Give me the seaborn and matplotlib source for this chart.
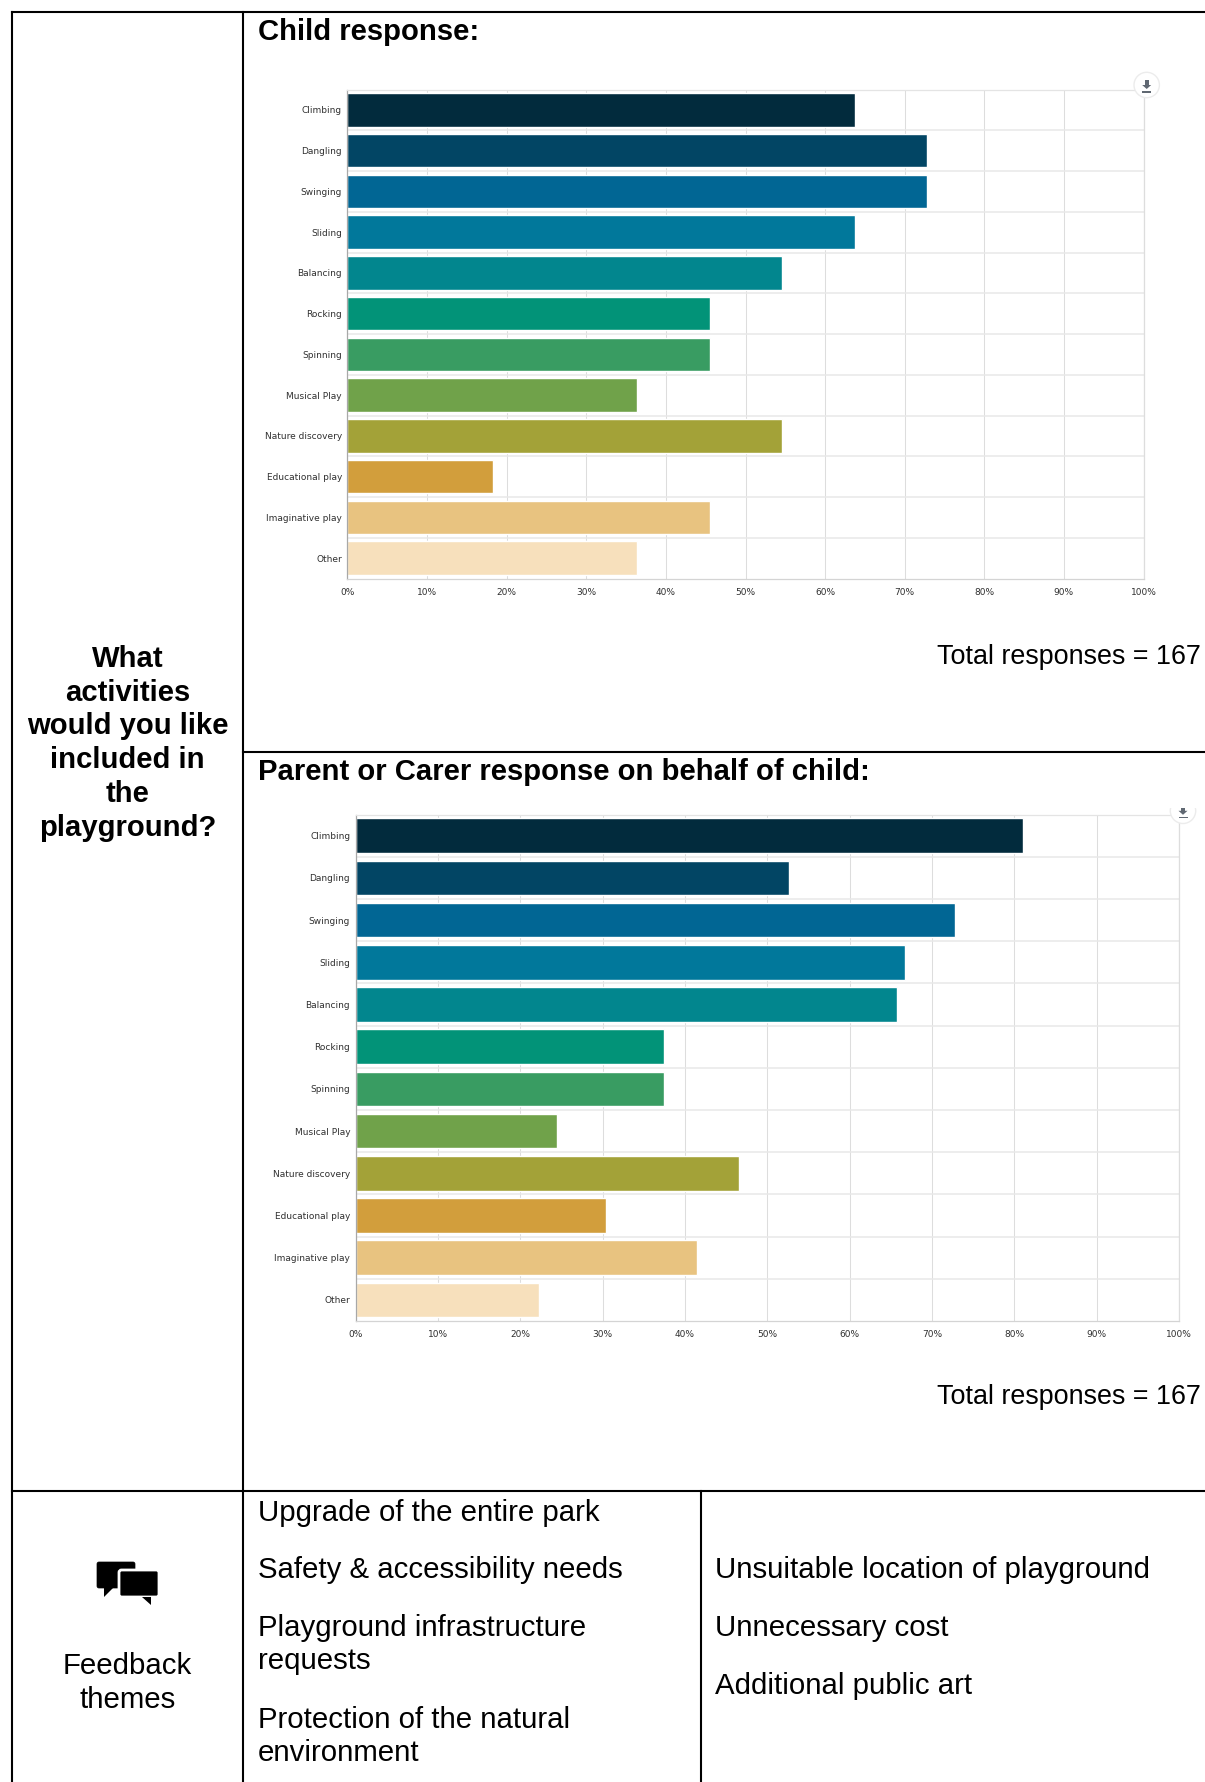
import matplotlib
matplotlib.use("Agg")
import matplotlib.pyplot as plt
import pandas as pd
import seaborn as sns
from matplotlib.patches import Circle, FancyBboxPatch, Polygon, Rectangle

W, H = 1205, 1782

activities = ["Climbing", "Dangling", "Swinging", "Sliding", "Balancing", "Rocking",
              "Spinning", "Musical Play", "Nature discovery", "Educational play",
              "Imaginative play", "Other"]
child_pct = [63.7, 72.8, 72.8, 63.7, 54.6, 45.5, 45.5, 36.4, 54.6, 18.3, 45.5, 36.4]
parent_pct = [81.0, 52.6, 72.8, 66.7, 65.8, 37.5, 37.5, 24.4, 46.5, 30.4, 41.5, 22.3]
bar_colors = ["#022B3D", "#024564", "#016694", "#01789B", "#02868E", "#029378",
              "#399C62", "#70A24A", "#A3A238", "#D29E3C", "#E8C380", "#F7E0BC"]
pct_ticks = list(range(0, 101, 10))

left_heading = ["What", "activities", "would you like", "included in", "the", "playground?"]
themes_left = [("Upgrade of the entire park", 1521), ("Safety & accessibility needs", 1578),
               ("Playground infrastructure", 1636), ("requests", 1669),
               ("Protection of the natural", 1728), ("environment", 1761)]
themes_right = [("Unsuitable location of playground", 1578), ("Unnecessary cost", 1636),
                ("Additional public art", 1694)]

sns.set_theme(style="white")
plt.rcParams["font.family"] = ["Liberation Sans", "DejaVu Sans"]

fig = plt.figure(figsize=(W / 100, H / 100), dpi=100)

# page layer in pixel coordinates, holds the table rules and the text
page = fig.add_axes([0, 0, 1, 1], zorder=0)
page.set_xlim(0, W)
page.set_ylim(H, 0)
page.axis("off")

for x0, y0, x1, y1 in [(12, 12, W, 12), (243, 751.5, W, 751.5), (12, 1491, W, 1491),
                       (12, 12, 12, H), (243, 12, 243, H), (701, 1491, 701, H)]:
    page.plot([x0, x1], [y0, y1], color="black", lw=1.5, solid_capstyle="projecting")

page.text(258, 40, "Child response:", fontsize=21.1, fontweight="bold", color="black")
page.text(258, 780, "Parent or Carer response on behalf of child:", fontsize=21.1,
          fontweight="bold", color="black")
page.text(1201, 664, "Total responses = 167", fontsize=19.4, ha="right", color="black")
page.text(1201, 1404, "Total responses = 167", fontsize=19.4, ha="right", color="black")

for i, line in enumerate(left_heading):
    page.text(127.5, 667 + i * 33.7, line, fontsize=21.1, fontweight="bold", ha="center",
              color="black")
page.text(127.5, 1674, "Feedback", fontsize=21.2, ha="center", color="black")
page.text(127.5, 1708, "themes", fontsize=21.2, ha="center", color="black")
for line, y in themes_left:
    page.text(258, y, line, fontsize=21.2, color="black")
for line, y in themes_right:
    page.text(715, y, line, fontsize=21.2, color="black")

# speech bubbles icon
page.add_patch(FancyBboxPatch((98, 1563), 36, 24, boxstyle="round,pad=1,rounding_size=2",
                              fc="black", ec="black", lw=0.5))
page.add_patch(Polygon([(104, 1587), (104, 1597), (114, 1587)], fc="black", ec="none"))
page.add_patch(FancyBboxPatch((120, 1571), 38, 25, boxstyle="round,pad=1,rounding_size=2.5",
                              fc="black", ec="white", lw=2, zorder=3))
page.add_patch(Polygon([(142, 1597), (151, 1605), (151, 1597)], fc="black", ec="none", zorder=4))


def draw_chart(values, left, right, top, bottom):
    ax = fig.add_axes([left / W, 1 - bottom / H, (right - left) / W, (bottom - top) / H], zorder=1)
    ax.patch.set_alpha(0)
    df = pd.DataFrame({"activity": activities, "pct": values})
    sns.barplot(data=df, y="activity", x="pct", hue="activity", palette=bar_colors, dodge=False,
                legend=False, saturation=1, width=0.82, ax=ax)
    ax.set_xlim(0, 100)
    ax.set_ylim(len(activities) - 0.5, -0.5)
    ax.set_xlabel("")
    ax.set_ylabel("")
    ax.set_xticks(pct_ticks)
    ax.set_xticklabels([f"{t}%" for t in pct_ticks])
    ax.set_yticks([i + 0.5 for i in range(len(activities) - 1)], minor=True)
    ax.set_axisbelow(True)
    ax.grid(axis="x", which="major", color="#dddddd", lw=0.75)
    ax.grid(axis="y", which="minor", color="#e8e8e8", lw=1.1)
    ax.tick_params(axis="both", which="both", length=0)
    ax.tick_params(axis="y", which="major", labelsize=6.5, labelcolor="#303030", pad=4)
    ax.tick_params(axis="x", which="major", labelsize=6.5, labelcolor="#303030", pad=6.5)
    for lab in ax.get_xticklabels() + ax.get_yticklabels():
        lab.set_family("DejaVu Sans")
    for name, spine in ax.spines.items():
        spine.set_color("#e4e4e4")
        spine.set_linewidth(0.9)
    ax.spines["left"].set_color("#a8a8a8")
    ax.spines["right"].set_color("#dddddd")
    ax.spines["bottom"].set_color("#d4d4d4")
    return ax


draw_chart(child_pct, 347.5, 1143.5, 89.5, 578.5)
draw_chart(parent_pct, 355.7, 1179, 814.7, 1321)

# export buttons sit on top of the charts
top = fig.add_axes([0, 0, 1, 1], zorder=2)
top.set_xlim(0, W)
top.set_ylim(H, 0)
top.axis("off")
top.patch.set_alpha(0)


def draw_button(cx, cy):
    top.add_patch(Circle((cx, cy), 12.7, fc="white", ec="#ececec", lw=1))
    top.add_patch(Rectangle((cx - 2, cy - 5), 4, 5, fc="#606872", ec="none"))
    top.add_patch(Polygon([(cx - 4.5, cy), (cx + 4.5, cy), (cx, cy + 4)], fc="#606872", ec="none"))
    top.add_patch(Rectangle((cx - 4.5, cy + 6), 9, 1.6, fc="#606872", ec="none"))


draw_button(1146.7, 85)
draw_button(1183, 810.8)
# second button is cut off by the image edge above it
top.add_patch(Rectangle((1165, 792), 40, 15.5, fc="white", ec="none"))

plt.savefig("out.png", dpi=100)
